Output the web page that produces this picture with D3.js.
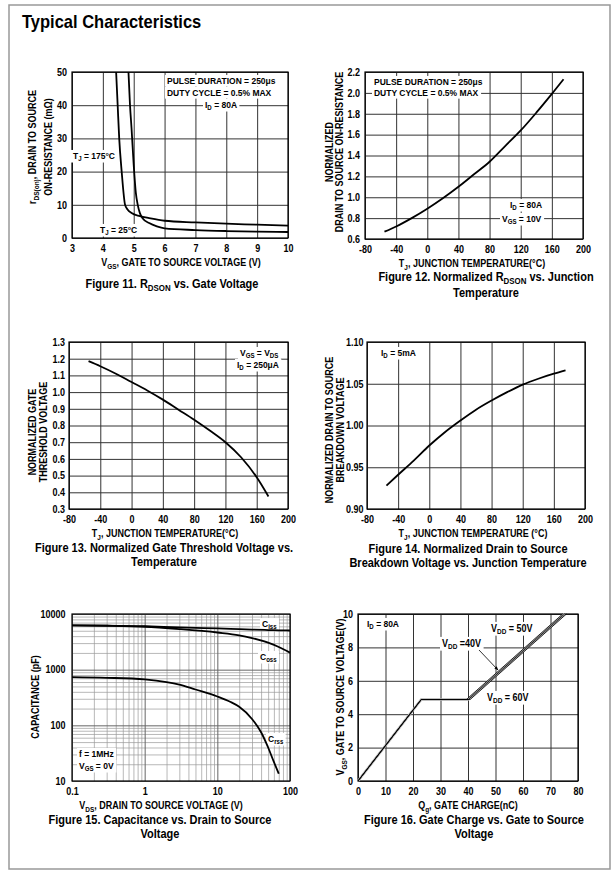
<!doctype html>
<html>
<head>
<meta charset="utf-8">
<script src="https://cdn.jsdelivr.net/npm/d3@7"></script>
<style>
  body { margin: 0; background: #fff; }
  svg text { font-family: "Liberation Sans", Arial, sans-serif; font-weight: bold; fill: #000; }
</style>
</head>
<body>
<div id="chart"></div>
<script>
// ---- data ----
// Figure 11: rDS(on) vs VGS
var f11Vgs175 = [4.43, 4.48, 4.53, 4.61, 4.72, 4.8, 4.93, 5.2, 5.5, 6, 7, 8, 9, 10];
var f11R175   = [50, 40, 30, 20, 10, 8.6, 7.5, 6.6, 6.0, 5.2, 4.7, 4.3, 4.0, 3.7];
var f11Vgs25  = [4.83, 4.88, 4.93, 5.0, 5.07, 5.13, 5.2, 5.3, 5.5, 5.75, 6, 7, 8, 9, 10];
var f11R25    = [50, 40, 33, 22, 13.5, 10, 7.5, 5.8, 4.5, 3.5, 2.9, 2.4, 2.1, 1.9, 1.8];

// Figures 12-14: vs junction temperature
var tempC    = [-55, -40, -20, 0, 20, 40, 60, 80, 100, 120, 140, 160, 175];
var f12Rnorm = [0.67, 0.72, 0.80, 0.89, 0.99, 1.10, 1.22, 1.34, 1.49, 1.64, 1.81, 1.99, 2.13];
var f13Vth   = [1.185, 1.155, 1.11, 1.06, 1.01, 0.955, 0.895, 0.835, 0.77, 0.70, 0.61, 0.49, 0.375];
var f14BV    = [0.928, 0.941, 0.958, 0.976, 0.992, 1.006, 1.019, 1.03, 1.04, 1.049, 1.056, 1.062, 1.066];

// Figure 15: capacitance vs VDS
var f15Vds  = [0.1, 0.3, 1, 3, 10, 20, 30, 50, 70, 100];
var f15Ciss = [6250, 6200, 6050, 5750, 5500, 5350, 5250, 5150, 5100, 5050];
var f15Coss = [6250, 6150, 5900, 5350, 4650, 4150, 3700, 3050, 2550, 2020];
var f15VdsR = [0.1, 0.3, 1, 2, 3, 5, 10, 15, 20, 30, 40, 50, 60, 70];
var f15Crss = [735, 715, 670, 600, 540, 440, 330, 265, 215, 130, 75, 40, 22, 13.5];

// Figure 16: gate charge
var f16Vgs = [0, 4.88, 4.88, 10];
var f16Q40 = [0, 23, 39.4, 74.4];
var f16Q50 = [0, 23, 40.1, 75.1];
var f16Q60 = [0, 23, 40.8, 75.8];

// tick labels
var f11XTicks = [3, 4, 5, 6, 7, 8, 9, 10];
var f11YTicks = [0, 10, 20, 30, 40, 50];
var tempTicks = [-80, -40, 0, 40, 80, 120, 160, 200];
var f12YTicks = [0.6, 0.8, 1.0, 1.2, 1.4, 1.6, 1.8, 2.0, 2.2];
var f13YTicks = [0.3, 0.4, 0.5, 0.6, 0.7, 0.8, 0.9, 1.0, 1.1, 1.2, 1.3];
var f14YTicks = [0.90, 0.95, 1.00, 1.05, 1.10];
var f15XTicks = [0.1, 1, 10, 100];
var f15YTicks = [10, 100, 1000, 10000];
var f16XTicks = [0, 10, 20, 30, 40, 50, 60, 70, 80];
var f16YTicks = [0, 2, 4, 6, 8, 10];

var TALL = 1.15; // the scanned lettering is a bit taller than Liberation Sans

var svg = d3.select("#chart").append("svg").attr("width", 615).attr("height", 875);

svg.append("defs").append("marker")
    .attr("id", "arr").attr("viewBox", "0 0 10 10").attr("refX", 9).attr("refY", 5)
    .attr("markerWidth", 5).attr("markerHeight", 5).attr("orient", "auto")
    .append("path").attr("d", "M0,1L10,5L0,9Z").attr("fill", "#000");

// stretch glyphs vertically while keeping the baseline in place
function stretch(t) {
    var tr = t.attr("transform");
    if (tr) { t.attr("transform", tr + " scale(1," + TALL + ")"); return; }
    var y = +t.attr("y") || 0;
    t.attr("transform", "translate(0," + (y * (1 - TALL)) + ") scale(1," + TALL + ")");
}

// page frame + heading
svg.append("rect").attr("x", 9).attr("y", 5).attr("width", 601).attr("height", 864)
    .attr("fill", "none").attr("stroke", "#999").attr("stroke-width", 1.5);
stretch(svg.append("text").attr("x", 22).attr("y", 28).style("font-size", "16.5px").text("Typical Characteristics"));

var SUB = 1; // marks a subscript part

// write parts like [["V"],["GS",SUB],[" = 10V"]] into a text element
function rich(t, parts, fs, drop) {
    drop = drop || 0.25;
    t.style("font-size", fs + "px");
    var wasSub = false;
    parts.forEach(function (p) {
        var s = t.append("tspan").text(p[0]);
        if (p[1] === SUB) {
            s.style("font-size", (fs * 0.72) + "px");
            if (!wasSub) s.attr("dy", fs * drop);
            wasSub = true;
        } else {
            if (wasSub) s.attr("dy", -fs * drop);
            wasSub = false;
        }
    });
    stretch(t);
    return t;
}

// annotation with a white box behind it
function note(g, x, y, parts, fs) {
    var t = rich(g.append("text").attr("x", x).attr("y", y), parts, fs, 0.2);
    var b = t.node().getBBox();
    g.insert("rect", function () { return t.node(); })
        .attr("x", b.x - 2).attr("y", y + (b.y - y) * TALL - 0.5)
        .attr("width", b.width + 4).attr("height", b.height * TALL + 1)
        .attr("fill", "#fff");
    return t;
}

function panel(p) {
    var g = svg.append("g");
    var x = p.x.range([p.left, p.right]);
    var y = p.y.range([p.bottom, p.top]);
    var h = p.bottom - p.top, w = p.right - p.left;
    var gridCol = p.gridCol || "#333";

    if (p.xMinor) {
        g.append("g").attr("transform", "translate(0," + p.bottom + ")")
            .call(d3.axisBottom(x).tickValues(p.xMinor).tickSize(-h).tickFormat(""))
            .call(function (a) { a.select(".domain").remove(); })
            .selectAll("line").attr("stroke", "#999").attr("stroke-width", 0.7);
        g.append("g").attr("transform", "translate(" + p.left + ",0)")
            .call(d3.axisLeft(y).tickValues(p.yMinor).tickSize(-w).tickFormat(""))
            .call(function (a) { a.select(".domain").remove(); })
            .selectAll("line").attr("stroke", "#999").attr("stroke-width", 0.7);
    }

    var xa = g.append("g").attr("transform", "translate(0," + p.bottom + ")")
        .call(d3.axisBottom(x).tickValues(p.xTicks).tickFormat(p.xFmt || String).tickSize(-h));
    xa.select(".domain").remove();
    xa.selectAll("line").attr("stroke", gridCol).attr("stroke-width", 1);
    xa.selectAll("text").attr("y", 14).attr("dy", null).style("font-size", "9px")
        .each(function () { stretch(d3.select(this)); });

    var ya = g.append("g").attr("transform", "translate(" + p.left + ",0)")
        .call(d3.axisLeft(y).tickValues(p.yTicks).tickFormat(p.yFmt || String).tickSize(-w).tickPadding(p.yPad || 5));
    ya.select(".domain").remove();
    ya.selectAll("line").attr("stroke", gridCol).attr("stroke-width", 1);
    ya.selectAll("text").attr("dy", null).attr("y", 3.3).style("font-size", "9px")
        .each(function () { stretch(d3.select(this)); });

    g.append("rect").attr("x", p.left).attr("y", p.top).attr("width", w).attr("height", h)
        .attr("fill", "none").attr("stroke", "#000").attr("stroke-width", 1.2);

    // axis titles
    p.yTitle.forEach(function (line, i) {
        rich(g.append("text").attr("text-anchor", "middle")
            .attr("transform", "translate(" + p.yTitleX[i] + "," + p.yTitleY + ")rotate(-90)"), line, 9);
    });
    rich(g.append("text").attr("text-anchor", "middle").attr("x", p.xTitleX).attr("y", p.bottom + 28), p.xTitle, 9);

    // caption
    var gap = p.capGap || 14;
    p.caption.forEach(function (line, i) {
        rich(g.append("text").attr("text-anchor", "middle").attr("x", p.capX).attr("y", p.capY + i * gap), line, 11, 0.2);
    });

    var labels = g.append("g");
    (p.notes || []).forEach(function (n) { note(labels, n[0], n[1], n[2], n[3] || 8.5); });

    var line = d3.line().x(function (d) { return x(d[0]); }).y(function (d) { return y(d[1]); })
        .curve(p.curve || d3.curveMonotoneX);
    if (p.band) {
        g.append("path").datum(d3.zip(p.band[0], p.band[1])).attr("d", line)
            .attr("fill", "none").attr("stroke", "#aaa").attr("stroke-width", 2.6);
    }
    p.series.forEach(function (s) {
        g.append("path").datum(d3.zip(s[0], s[1])).attr("d", line)
            .attr("fill", "none").attr("stroke", "#000")
            .attr("stroke-width", p.lineW || 1.8).attr("stroke-linejoin", "round");
    });
    return { g: g, x: x, y: y };
}

var f1 = d3.format(".1f"), f2 = d3.format(".2f");

panel({
    left: 72, right: 288, top: 72, bottom: 238,
    x: d3.scaleLinear().domain([3, 10]), y: d3.scaleLinear().domain([0, 50]),
    xTicks: f11XTicks, yTicks: f11YTicks,
    yTitle: [[["r"], ["DS(on)", SUB], [", DRAIN TO SOURCE"]], [["ON-RESISTANCE (mΩ)"]]],
    yTitleX: [36, 52], yTitleY: 147,
    xTitle: [["V"], ["GS", SUB], [", GATE TO SOURCE VOLTAGE (V)"]], xTitleX: 181,
    caption: [[["Figure 11.  R"], ["DSON", SUB], [" vs. Gate Voltage"]]], capX: 172, capY: 288,
    notes: [[167, 84, [["PULSE DURATION = 250μs"]]], [167, 96, [["DUTY CYCLE = 0.5% MAX"]]],
            [205, 108, [["I"], ["D", SUB], [" = 80A"]]],
            [73, 159, [["T"], ["J", SUB], [" = 175°C"]]], [100, 233, [["T"], ["J", SUB], [" = 25°C"]]]],
    series: [[f11Vgs175, f11R175], [f11Vgs25, f11R25]]
});

panel({
    left: 365, right: 583, top: 72, bottom: 239,
    x: d3.scaleLinear().domain([-80, 200]), y: d3.scaleLinear().domain([0.6, 2.2]),
    xTicks: tempTicks, yTicks: f12YTicks, yFmt: f1,
    yTitle: [[["NORMALIZED"]], [["DRAIN TO SOURCE ON-RESISTANCE"]]],
    yTitleX: [333, 343], yTitleY: 152,
    xTitle: [["T"], ["J", SUB], [", JUNCTION TEMPERATURE(°C)"]], xTitleX: 472,
    caption: [[["Figure 12.  Normalized R"], ["DSON", SUB], [" vs. Junction"]], [["Temperature"]]],
    capX: 486, capY: 281.5, capGap: 16,
    notes: [[374, 85, [["PULSE DURATION = 250μs"]]], [374, 96, [["DUTY CYCLE = 0.5% MAX"]]],
            [510, 208, [["I"], ["D", SUB], [" = 80A"]]], [502, 222, [["V"], ["GS", SUB], [" = 10V"]]]],
    series: [[tempC, f12Rnorm]]
});

panel({
    left: 69, right: 288, top: 342, bottom: 509,
    x: d3.scaleLinear().domain([-80, 200]), y: d3.scaleLinear().domain([0.3, 1.3]),
    xTicks: tempTicks, yTicks: f13YTicks, yFmt: f1, yPad: 4,
    yTitle: [[["NORMALIZED GATE"]], [["THRESHOLD VOLTAGE"]]],
    yTitleX: [36, 47], yTitleY: 432,
    xTitle: [["T"], ["J", SUB], [", JUNCTION TEMPERATURE(°C)"]], xTitleX: 165,
    caption: [[["Figure 13. Normalized Gate Threshold Voltage vs."]], [["Temperature"]]],
    capX: 164, capY: 552,
    notes: [[240, 356, [["V"], ["GS", SUB], [" = V"], ["DS", SUB]]], [237, 368, [["I"], ["D", SUB], [" = 250μA"]]]],
    series: [[tempC, f13Vth]]
});

panel({
    left: 367, right: 585, top: 342, bottom: 509,
    x: d3.scaleLinear().domain([-80, 200]), y: d3.scaleLinear().domain([0.9, 1.1]),
    xTicks: tempTicks, yTicks: f14YTicks, yFmt: f2, yPad: 3.5,
    yTitle: [[["NORMALIZED DRAIN TO SOURCE"]], [["BREAKDOWN VOLTAGE"]]],
    yTitleX: [333, 344], yTitleY: 430,
    xTitle: [["T"], ["J", SUB], [", JUNCTION TEMPERATURE (°C)"]], xTitleX: 473,
    caption: [[["Figure 14.  Normalized Drain to Source"]], [["Breakdown Voltage vs. Junction Temperature"]]],
    capX: 468, capY: 553,
    notes: [[381, 356, [["I"], ["D", SUB], [" = 5mA"]]]],
    series: [[tempC, f14BV]]
});

var xMinor15 = [], yMinor15 = [];
[0.1, 1, 10].forEach(function (d) { for (var k = 2; k <= 9; k++) xMinor15.push(d * k); });
[10, 100, 1000].forEach(function (d) { for (var k = 2; k <= 9; k++) yMinor15.push(d * k); });

panel({
    left: 72, right: 290, top: 614, bottom: 781,
    x: d3.scaleLog().domain([0.1, 100]), y: d3.scaleLog().domain([10, 10000]),
    xTicks: f15XTicks, yTicks: f15YTicks, yPad: 6.5,
    xMinor: xMinor15, yMinor: yMinor15, gridCol: "#666",
    yTitle: [[["CAPACITANCE (pF)"]]], yTitleX: [39], yTitleY: 697,
    xTitle: [["V"], ["DS", SUB], [", DRAIN TO SOURCE VOLTAGE (V)"]], xTitleX: 161,
    caption: [[["Figure 15.  Capacitance vs. Drain to Source"]], [["Voltage"]]], capX: 160, capY: 824,
    notes: [[262, 627, [["C"], ["iss", SUB]]], [260, 660, [["C"], ["oss", SUB]]], [268, 742, [["C"], ["rss", SUB]]],
            [79, 757, [["f = 1MHz"]]], [79, 769, [["V"], ["GS", SUB], [" = 0V"]]]],
    series: [[f15Vds, f15Ciss], [f15Vds, f15Coss], [f15VdsR, f15Crss]]
});

var p16 = panel({
    left: 358, right: 578, top: 614, bottom: 781,
    x: d3.scaleLinear().domain([0, 80]), y: d3.scaleLinear().domain([0, 10]),
    xTicks: f16XTicks, yTicks: f16YTicks,
    yTitle: [[["V"], ["GS", SUB], [", GATE TO SOURCE VOLTAGE(V)"]]], yTitleX: [344], yTitleY: 697,
    xTitle: [["Q"], ["g", SUB], [", GATE CHARGE(nC)"]], xTitleX: 468,
    caption: [[["Figure 16.  Gate Charge  vs. Gate to Source"]], [["Voltage"]]], capX: 474, capY: 824,
    notes: [[367, 627, [["I"], ["D", SUB], [" = 80A"]]],
            [491, 632, [["V"], ["DD", SUB], [" = 50V"]], 9],
            [442, 647, [["V"], ["DD", SUB], [" =40V"]], 9],
            [487, 701, [["V"], ["DD", SUB], [" = 60V"]], 9]],
    curve: d3.curveLinear, lineW: 0.8,
    band: [f16Q50, f16Vgs],
    series: [[f16Q40, f16Vgs], [f16Q50, f16Vgs], [f16Q60, f16Vgs]]
});

// leader arrow for the 40V label
p16.g.append("line").attr("x1", 479).attr("y1", 650).attr("x2", 498).attr("y2", 670)
    .attr("stroke", "#000").attr("stroke-width", 0.8).attr("marker-end", "url(#arr)");
</script>
</body>
</html>
